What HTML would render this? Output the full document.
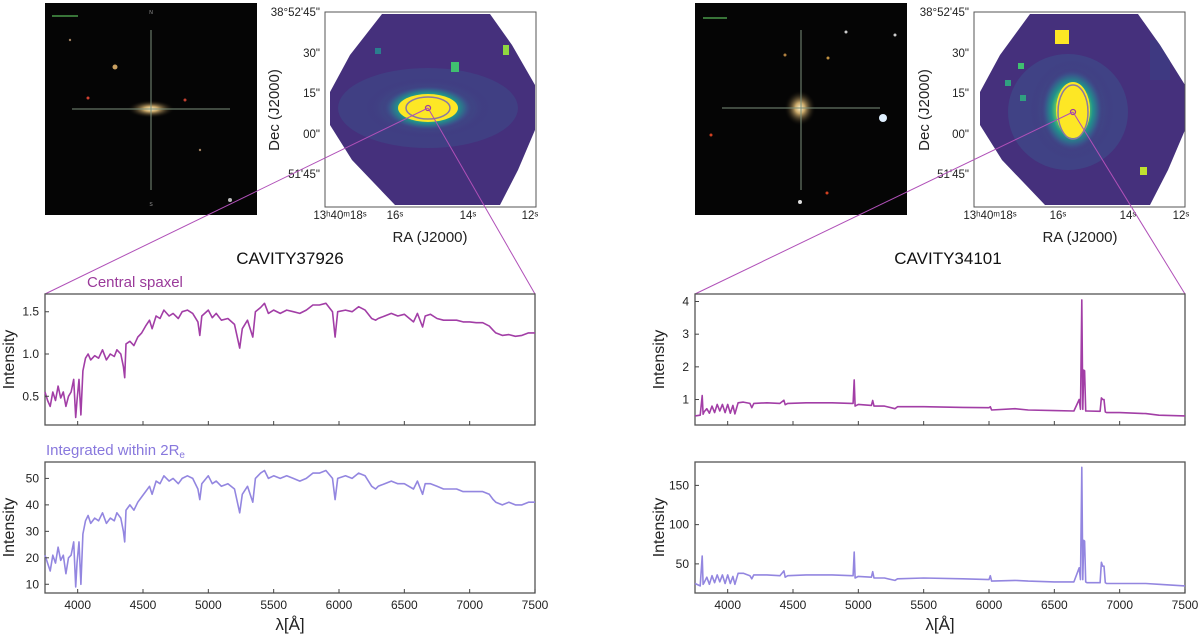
<!DOCTYPE html>
<html><head><meta charset="utf-8"><style>
html,body{margin:0;padding:0;background:#fff;}
svg{display:block;font-family:"Liberation Sans","DejaVu Sans",sans-serif;}
</style></head><body>
<svg id="fig" width="1200" height="636" viewBox="0 0 1200 636" xmlns="http://www.w3.org/2000/svg">
<defs>
  <radialGradient id="glowL" cx="0.5" cy="0.5" r="0.5">
    <stop offset="0" stop-color="#fde725"/><stop offset="0.35" stop-color="#fde725"/>
    <stop offset="0.5" stop-color="#5ec962"/><stop offset="0.65" stop-color="#21918c"/>
    <stop offset="0.85" stop-color="#3b528b"/><stop offset="1" stop-color="#46327e" stop-opacity="0"/>
  </radialGradient>
  <radialGradient id="halo" cx="0.5" cy="0.5" r="0.5">
    <stop offset="0" stop-color="#2a788e"/><stop offset="0.5" stop-color="#355f8d"/>
    <stop offset="1" stop-color="#46327e" stop-opacity="0"/>
  </radialGradient>
  <radialGradient id="gal" cx="0.5" cy="0.5" r="0.5">
    <stop offset="0" stop-color="#fff2c8"/><stop offset="0.3" stop-color="#c9a86a"/>
    <stop offset="1" stop-color="#000" stop-opacity="0"/>
  </radialGradient>
  <clipPath id="hexL"><polygon points="382,14 490,14 512,45 535,85 535,130 518,170 500,205 395,205 352,160 330,125 330,92 350,55"/></clipPath>
  <clipPath id="hexR"><polygon points="1030,14 1138,14 1160,45 1185,85 1185,130 1168,170 1150,205 1045,205 1002,160 980,125 980,92 1000,55"/></clipPath>
</defs>

<g>
  <rect x="45" y="3" width="212" height="212" fill="#050505"/>
  <ellipse cx="151" cy="109" rx="24" ry="9" fill="url(#gal)"/>
  <line x1="151" y1="30" x2="151" y2="190" stroke="#7a8f7a" stroke-width="1"/>
  <line x1="72" y1="109" x2="230" y2="109" stroke="#7a8f7a" stroke-width="1"/>
  <line x1="52" y1="16" x2="78" y2="16" stroke="#4a9a4a" stroke-width="1.5"/>
  <circle cx="115" cy="67" r="2.5" fill="#c9a060"/><circle cx="88" cy="98" r="1.5" fill="#d04030"/>
  <circle cx="185" cy="100" r="1.5" fill="#c04030"/><circle cx="230" cy="200" r="2" fill="#bbb"/>
  <circle cx="200" cy="150" r="1.2" fill="#a08060"/><circle cx="70" cy="40" r="1.2" fill="#a08060"/>
  <text x="151" y="14" font-size="5" fill="#999" text-anchor="middle">N</text>
  <text x="151" y="206" font-size="5" fill="#999" text-anchor="middle">S</text>
</g>
<g>
  <g clip-path="url(#hexL)">
    <rect x="325" y="12" width="211" height="195" fill="#45307c"/>
    <ellipse cx="428" cy="108" rx="90" ry="40" fill="#3e4a89" opacity="0.6"/>
    <ellipse cx="428" cy="108" rx="62" ry="30" fill="url(#halo)"/>
    <ellipse cx="428" cy="108" rx="46" ry="23" fill="url(#glowL)"/>
    <ellipse cx="428" cy="108" rx="30" ry="14" fill="#fde725"/>
    <rect x="451" y="62" width="8" height="10" fill="#40bf70"/>
    <rect x="503" y="45" width="6" height="10" fill="#8fd740"/>
    <rect x="375" y="48" width="6" height="6" fill="#2a7e8e"/>
  </g>
  <ellipse cx="428" cy="108" rx="22" ry="11" fill="none" stroke="#8a7aa0" stroke-width="1.5"/>
  <circle cx="428" cy="108" r="2.5" fill="none" stroke="#a0409a" stroke-width="1.3"/>
  <rect x="325" y="12" width="211" height="195" fill="none" stroke="#555" stroke-width="1"/>
  <g font-size="11.5" fill="#222" text-anchor="end">
    <text x="320" y="16">38°52'45"</text><text x="320" y="57">30"</text><text x="320" y="97">15"</text>
    <text x="320" y="138">00"</text><text x="320" y="178">51'45"</text>
  </g>
  <g font-size="11.5" fill="#222" text-anchor="middle">
    <text x="340" y="219">13ʰ40ᵐ18ˢ</text><text x="395" y="219">16ˢ</text><text x="468" y="219">14ˢ</text><text x="530" y="219">12ˢ</text>
  </g>
  <text x="430" y="242" font-size="15" fill="#222" text-anchor="middle">RA (J2000)</text>
  <text transform="translate(279,110) rotate(-90)" font-size="15" fill="#222" text-anchor="middle">Dec (J2000)</text>
</g>

<g>
  <rect x="695" y="3" width="212" height="212" fill="#050505"/>
  <ellipse cx="800" cy="108" rx="16" ry="18" fill="url(#gal)"/>
  <line x1="801" y1="30" x2="801" y2="190" stroke="#7a8f7a" stroke-width="1"/>
  <line x1="722" y1="108" x2="880" y2="108" stroke="#7a8f7a" stroke-width="1"/>
  <line x1="703" y1="18" x2="727" y2="18" stroke="#4a9a4a" stroke-width="1.5"/>
  <circle cx="883" cy="118" r="4" fill="#e0f0ff"/><circle cx="846" cy="32" r="1.5" fill="#ccc"/>
  <circle cx="895" cy="35" r="1.5" fill="#ccc"/><circle cx="800" cy="202" r="2" fill="#ddd"/>
  <circle cx="785" cy="55" r="1.5" fill="#b08040"/><circle cx="828" cy="58" r="1.5" fill="#c09040"/>
  <circle cx="711" cy="135" r="1.5" fill="#d04020"/><circle cx="827" cy="193" r="1.5" fill="#d04020"/>
</g>
<g>
  <g clip-path="url(#hexR)">
    <rect x="974" y="12" width="211" height="195" fill="#45307c"/>
    <ellipse cx="1068" cy="112" rx="60" ry="58" fill="#3e4a89" opacity="0.7"/>
    <ellipse cx="1072" cy="110" rx="42" ry="50" fill="url(#halo)"/>
    <ellipse cx="1072" cy="110" rx="32" ry="42" fill="url(#glowL)"/>
    <ellipse cx="1073" cy="110" rx="17" ry="28" fill="#fde725"/>
    <rect x="1055" y="30" width="14" height="14" fill="#fde725"/>
    <rect x="1018" y="63" width="6" height="6" fill="#40bf70"/>
    <rect x="1005" y="80" width="6" height="6" fill="#30a080"/>
    <rect x="1020" y="95" width="6" height="6" fill="#30a080"/>
    <rect x="1140" y="167" width="7" height="8" fill="#c0e030"/>
    <rect x="1150" y="40" width="20" height="40" fill="#3b3f85" opacity="0.6"/>
  </g>
  <ellipse cx="1073" cy="112" rx="15" ry="27" fill="none" stroke="#8a7aa0" stroke-width="1.5"/>
  <circle cx="1073" cy="112" r="2.5" fill="none" stroke="#a0409a" stroke-width="1.3"/>
  <rect x="974" y="12" width="211" height="195" fill="none" stroke="#555" stroke-width="1"/>
  <g font-size="11.5" fill="#222" text-anchor="end">
    <text x="969" y="16">38°52'45"</text><text x="969" y="57">30"</text><text x="969" y="97">15"</text>
    <text x="969" y="138">00"</text><text x="969" y="178">51'45"</text>
  </g>
  <g font-size="11.5" fill="#222" text-anchor="middle">
    <text x="990" y="219">13ʰ40ᵐ18ˢ</text><text x="1058" y="219">16ˢ</text><text x="1128" y="219">14ˢ</text><text x="1181" y="219">12ˢ</text>
  </g>
  <text x="1080" y="242" font-size="15" fill="#222" text-anchor="middle">RA (J2000)</text>
  <text transform="translate(929,110) rotate(-90)" font-size="15" fill="#222" text-anchor="middle">Dec (J2000)</text>
</g>

<g stroke="#b050b8" stroke-width="1">
  <line x1="428" y1="108" x2="45" y2="294"/><line x1="428" y1="108" x2="535" y2="294"/>
  <line x1="1073" y1="112" x2="695" y2="294"/><line x1="1073" y1="112" x2="1185" y2="294"/>
</g>

<text x="290" y="264" font-size="17" fill="#111" text-anchor="middle">CAVITY37926</text>
<text x="948" y="264" font-size="17" fill="#111" text-anchor="middle">CAVITY34101</text>
<text x="87" y="287" font-size="15" fill="#9a3a9a">Central spaxel</text>
<text x="46" y="455" font-size="15" fill="#8878dd">Integrated within 2R<tspan font-size="10" dy="3">e</tspan></text>
<text x="290" y="630" font-size="17" fill="#222" text-anchor="middle">λ[Å]</text>
<text x="940" y="630" font-size="17" fill="#222" text-anchor="middle">λ[Å]</text>
<g id="charts"></g>
</svg>
<script>
const xTicks = [4000, 4500, 5000, 5500, 6000, 6500, 7000, 7500];
const lamA = [3750,3770,3790,3810,3830,3850,3870,3890,3910,3930,3950,3970,3985,3995,4010,4025,4040,4060,4080,4100,4130,4160,4190,4220,4250,4280,4300,4330,4350,4360,4370,4400,4430,4460,4490,4520,4550,4570,4600,4630,4660,4700,4730,4770,4800,4840,4880,4920,4935,4950,5000,5030,5060,5100,5150,5200,5240,5260,5300,5340,5360,5400,5430,5460,5500,5550,5600,5650,5700,5750,5800,5850,5900,5950,5970,5990,6050,6100,6150,6200,6250,6280,6300,6350,6400,6450,6500,6570,6600,6640,6660,6700,6750,6800,6850,6900,6950,7000,7050,7100,7150,7180,7200,7250,7300,7350,7400,7450,7500];
const centralA = [0.55,0.45,0.38,0.55,0.45,0.62,0.48,0.55,0.38,0.5,0.55,0.7,0.25,0.45,0.7,0.28,0.8,0.95,1.0,0.93,0.98,0.95,1.05,0.93,1.0,0.97,1.05,1.0,0.85,0.72,1.12,1.15,1.1,1.2,1.25,1.33,1.4,1.3,1.45,1.42,1.52,1.45,1.48,1.42,1.5,1.52,1.48,1.38,1.22,1.45,1.52,1.43,1.48,1.4,1.42,1.35,1.07,1.3,1.4,1.2,1.5,1.55,1.6,1.48,1.52,1.48,1.52,1.5,1.48,1.52,1.58,1.58,1.6,1.5,1.2,1.5,1.52,1.5,1.56,1.52,1.42,1.4,1.42,1.45,1.48,1.45,1.47,1.38,1.48,1.32,1.45,1.47,1.42,1.4,1.4,1.4,1.38,1.38,1.37,1.37,1.33,1.28,1.25,1.22,1.23,1.21,1.22,1.25,1.25];
const integA = [21,18,15,21,18,24,19,21,14,20,21,26,9,18,26,10,29,34,36,33,35,34,37,33,35,34,37,35,30,26,38,40,38,41,43,45,47,44,49,48,51,49,50,48,50,51,50,46,42,48,51,48,49,47,48,46,37,44,47,41,50,52,53,50,51,50,51,50,49,50,52,52,53,50,42,50,51,50,52,51,47,46,47,48,49,48,48,46,49,44,48,48,47,46,46,46,45,45,45,45,44,42,41,40,41,40,40,41,41];
const lamB = [3750,3790,3805,3812,3820,3840,3860,3880,3900,3920,3940,3960,3980,4000,4020,4040,4055,4080,4120,4170,4185,4200,4300,4400,4430,4440,4460,4600,4800,4950,4960,4968,4975,5000,5100,5110,5120,5200,5280,5300,5500,5800,6000,6010,6020,6200,6300,6500,6650,6690,6700,6710,6718,6725,6732,6740,6750,6850,6860,6870,6880,6890,6900,7000,7200,7300,7500];
const centralB = [0.5,0.52,1.12,0.55,0.62,0.72,0.58,0.8,0.6,0.85,0.65,0.85,0.6,0.85,0.58,0.82,0.56,0.9,0.92,0.88,0.75,0.88,0.9,0.88,0.98,0.84,0.88,0.9,0.9,0.88,0.88,1.6,0.8,0.85,0.82,0.97,0.8,0.8,0.72,0.78,0.78,0.76,0.75,0.78,0.68,0.72,0.68,0.66,0.65,1.0,0.7,4.05,0.7,1.9,1.88,0.65,0.65,0.64,1.05,1.0,1.0,0.62,0.6,0.6,0.57,0.52,0.5];
const integB = [25,22,60,24,26,33,24,35,26,36,27,36,25,36,25,34,24,38,38,35,31,36,36,35,41,33,35,36,36,35,35,65,32,34,33,40,32,32,29,31,32,31,30,35,28,29,28,27,27,45,30,173,30,80,79,27,26,26,52,47,47,26,25,25,25,24,22];
const yTicksA1 = [0.5, 1.0, 1.5];
const yTicksA2 = [10, 20, 30, 40, 50];
const yTicksB1 = [1, 2, 3, 4];
const yTicksB2 = [50, 100, 150];

const NS = 'http://www.w3.org/2000/svg';
const root = document.getElementById('charts');
function mk(tag, attrs) { const e = document.createElementNS(NS, tag); for (const k in attrs) e.setAttribute(k, attrs[k]); root.appendChild(e); return e; }

function panel(name, x0, y0, w, h, ymin, ymax, lam, vals, color, yTicks, yFmt, showXLabels) {
  const xs = v => x0 + (v - 3750) / (7500 - 3750) * w;
  const ys = v => y0 + h - (v - ymin) / (ymax - ymin) * h;
  const g = mk('rect', {x: x0, y: y0, width: w, height: h, fill: 'none', stroke: '#555', 'stroke-width': 1.3});
  
  
  let d = '';
  lam.forEach((l, i) => { d += (i ? 'L' : 'M') + xs(l).toFixed(1) + ',' + ys(vals[i]).toFixed(1); });
  const p = mk('path', {d: d, fill: 'none', stroke: color, 'stroke-width': 1.6, 'stroke-linejoin': 'round'});
  
  
  xTicks.forEach(t => {
    const X = xs(t);
    const tk = mk('line', {x1: X, x2: X, y1: y0 + h, y2: y0 + h - 4, stroke: '#444'});
    
    
    if (showXLabels) {
      const tx = mk('text', {x: X, y: y0 + h + 16, 'font-size': 12, fill: '#222', 'text-anchor': 'middle'});
      tx.textContent = t;
      
      
    }
  });
  yTicks.forEach(t => {
    const Y = ys(t);
    const tk = mk('line', {x1: x0, x2: x0 + 4, y1: Y, y2: Y, stroke: '#444'});
    
    
    const tx = mk('text', {x: x0 - 6, y: Y + 4, 'font-size': 12, fill: '#222', 'text-anchor': 'end'});
    tx.textContent = yFmt(t);
    
    
  });
  const yl = mk('text', {transform: 'translate(' + (x0 - 31) + ',' + (y0 + h / 2) + ') rotate(-90)', 'font-size': 16, fill: '#222', 'text-anchor': 'middle'});
  yl.textContent = 'Intensity';
  
  
}
const purple = '#a23ea6', lav = '#9386e0';
panel('left-central', 45, 294, 490, 131, 0.16, 1.71, lamA, centralA, purple, yTicksA1, t => t.toFixed(1), false);
panel('left-integrated', 45, 462, 490, 131, 6.7, 56.2, lamA, integA, lav, yTicksA2, t => String(t), true);
panel('right-central', 695, 294, 490, 131, 0.22, 4.23, lamB, centralB, purple, yTicksB1, t => String(t), false);
panel('right-integrated', 695, 462, 490, 131, 12.9, 179.8, lamB, integB, lav, yTicksB2, t => String(t), true);
</script>
</body></html>
